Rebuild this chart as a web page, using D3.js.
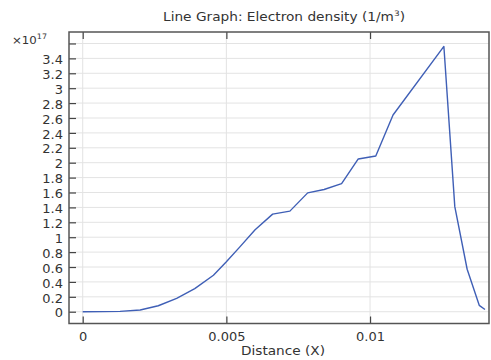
<!DOCTYPE html>
<html>
<head>
<meta charset="utf-8">
<script src="https://cdn.jsdelivr.net/npm/d3@7"></script>
<style>
  body { margin: 0; background: #fff; }
  svg { display: block; font-family: "DejaVu Sans", sans-serif; }
</style>
</head>
<body>
<svg id="chart" width="491" height="360"></svg>
<script>
// Electron density along the line, in units of 1e17 1/m^3
const distance = [0, 0.0007, 0.0013, 0.002, 0.00263, 0.00327, 0.0039, 0.00455, 0.005, 0.00547, 0.006,
  0.00661, 0.00721, 0.00783, 0.0084, 0.00901, 0.00959, 0.0102, 0.0108, 0.01257, 0.01295, 0.01338, 0.0138, 0.0140];
const density = [0, 0.001, 0.005, 0.023, 0.08, 0.18, 0.31, 0.49, 0.67, 0.87, 1.10,
  1.31, 1.35, 1.595, 1.64, 1.72, 2.05, 2.09, 2.64, 3.56, 1.41, 0.57, 0.086, 0.03];

const xTicks = [0, 0.005, 0.01];
const xTickLabels = ["0", "0.005", "0.01"];
const yTicks = [0, 0.2, 0.4, 0.6, 0.8, 1, 1.2, 1.4, 1.6, 1.8, 2, 2.2, 2.4, 2.6, 2.8, 3, 3.2, 3.4, 3.6];
const yTickLabels = ["0", "0.2", "0.4", "0.6", "0.8", "1", "1.2", "1.4", "1.6", "1.8", "2", "2.2", "2.4", "2.6", "2.8", "3", "3.2", "3.4", ""];

const svg = d3.select("#chart");
const plotLeft = 69, plotRight = 489, plotTop = 32, plotBottom = 323.5;
const textColor = "#333";
const widen = 1.13; // horizontal stretch applied to the label glyphs

const x = d3.scaleLinear().domain([-0.000477, 0.01414]).range([plotLeft, plotRight]);
const y = d3.scaleLinear().domain([-0.158, 3.754]).range([plotBottom, plotTop]);

// grid
const grid = svg.append("g").attr("stroke", "#e3e3e3").attr("stroke-width", 1);
grid.selectAll("line.v").data(xTicks).join("line").attr("class", "v")
  .attr("x1", d => x(d)).attr("x2", d => x(d)).attr("y1", plotTop).attr("y2", plotBottom);
grid.selectAll("line.h").data(yTicks).join("line").attr("class", "h")
  .attr("y1", d => y(d)).attr("y2", d => y(d)).attr("x1", plotLeft).attr("x2", plotRight);

// data line
svg.append("path")
  .datum(distance.map((d, i) => [d, density[i]]))
  .attr("fill", "none")
  .attr("stroke", "#3f5fb6")
  .attr("stroke-width", 1.4)
  .attr("stroke-linejoin", "round")
  .attr("d", d3.line().x(d => x(d[0])).y(d => y(d[1])));

// axes with inward ticks
const yAxis = d3.axisLeft(y).tickValues(yTicks).tickSize(-7).tickPadding(6)
  .tickFormat((d, i) => yTickLabels[i]);
const gy = svg.append("g").attr("transform", `translate(${plotLeft},0)`).call(yAxis);
gy.selectAll(".tick text").attr("dy", "0.45em");

const xAxis = d3.axisBottom(x).tickValues(xTicks).tickSize(-7).tickPadding(9.5)
  .tickFormat((d, i) => xTickLabels[i]);
const gx = svg.append("g").attr("transform", `translate(0,${plotBottom})`).call(xAxis);

const xTop = d3.axisTop(x).tickValues(xTicks).tickSize(-7).tickFormat("");
const gt = svg.append("g").attr("transform", `translate(0,${plotTop})`).call(xTop);

function stretch(sel, factor) {
  sel.each(function () {
    const len = this.getComputedTextLength();
    if (len > 0) d3.select(this).attr("textLength", len * factor).attr("lengthAdjust", "spacingAndGlyphs");
  });
}

[gy, gx, gt].forEach(g => {
  g.select(".domain").remove();
  g.selectAll(".tick line").attr("stroke", "#444").attr("stroke-width", 1.2);
  g.selectAll(".tick text").attr("fill", textColor).style("font-size", "11.5px")
    .style("font-family", "'DejaVu Sans', sans-serif");
  stretch(g.selectAll(".tick text"), widen);
});

// frame
svg.append("rect")
  .attr("x", plotLeft).attr("y", plotTop).attr("width", plotRight - plotLeft).attr("height", plotBottom - plotTop)
  .attr("fill", "none").attr("stroke", "#555").attr("stroke-width", 1.5);

// title
const title = svg.append("text")
  .attr("x", 284).attr("y", 20.5).attr("text-anchor", "middle")
  .attr("fill", textColor).style("font-size", "11.5px");
title.append("tspan").text("Line Graph: Electron density (1/m");
title.append("tspan").attr("dy", -4.5).style("font-size", "7.5px").text("3");
title.append("tspan").attr("dy", 4.5).text(")");
title.attr("textLength", 242).attr("lengthAdjust", "spacingAndGlyphs");

// exponent
const ex = svg.append("text").attr("x", 12).attr("y", 43.5).attr("fill", textColor).style("font-size", "11px");
ex.append("tspan").text("\u00d710");
ex.append("tspan").attr("dy", -5).style("font-size", "7.5px").text("17");
ex.attr("textLength", 35).attr("lengthAdjust", "spacingAndGlyphs");

// x label
svg.append("text")
  .attr("x", 283).attr("y", 355).attr("text-anchor", "middle")
  .attr("fill", textColor).style("font-size", "11.5px").text("Distance (X)")
  .attr("textLength", 84).attr("lengthAdjust", "spacingAndGlyphs");
</script>
</body>
</html>
